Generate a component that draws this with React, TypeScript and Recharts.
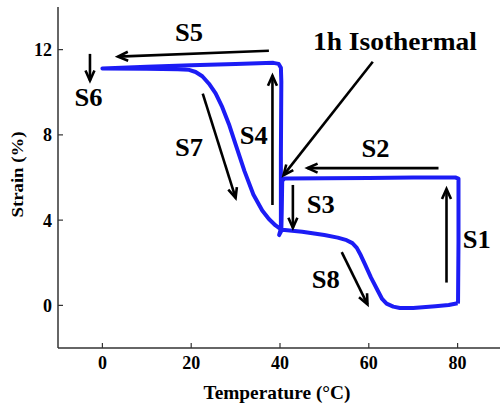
import * as React from "react"
import { LineChart, Line, XAxis, YAxis, ReferenceLine, ReferenceDot } from "recharts"

// strain loop, traced in order: S1 -> S2 -> S3 -> S4 -> S5 -> S7 -> S8
const tempC = [
  80, 80.1, 80.2, 80.2,
  79.5, 70, 60, 50, 41, 40.5,
  40.4, 40.3, 39.8,
  40.2, 40.2, 40.3, 40.2, 39.7, 38.5,
  30, 20, 10, 0,
  10, 17, 19.5, 21, 22.5, 24, 25.5, 27, 28.5, 30, 32, 34, 36, 37.5, 39, 40, 40.5,
  45, 50, 53, 55, 56.3, 57.3, 58.2, 59.2, 60.5, 62, 63, 64, 65.5, 67, 70, 75, 78, 80,
]
const strain = [
  0.1, 0.15, 3.0, 5.95,
  6.0, 6.0, 5.98, 5.97, 5.95, 5.85,
  4.5, 3.5, 3.3,
  3.6, 7.0, 10.5, 11.15, 11.33, 11.38,
  11.33, 11.27, 11.2, 11.12,
  11.1, 11.08, 11.05, 10.95, 10.75, 10.4, 9.95, 9.3, 8.5, 7.55, 6.3, 5.2, 4.45, 4.05, 3.75, 3.6, 3.55,
  3.45, 3.3, 3.18, 3.06, 2.92, 2.7, 2.35, 1.9, 1.3, 0.7, 0.3, 0.08, -0.06, -0.12, -0.12, -0.04, 0.02, 0.1,
]

const xTicks = [0, 20, 40, 60, 80]
const yTicks = [0, 4, 8, 12]

// annotation arrows in data units: tail -> head
const arrows = [
  { x1: 37.5, y1: 11.95, x2: 3.5, y2: 11.67 }, // S5
  { x1: -2.8, y1: 11.8, x2: -2.8, y2: 10.55 }, // S6
  { x1: 22.6, y1: 9.94, x2: 30.0, y2: 5.04 }, // S7
  { x1: 38.3, y1: 4.71, x2: 38.3, y2: 10.78 }, // S4
  { x1: 60.9, y1: 11.43, x2: 40.8, y2: 6.11 }, // 1h isothermal
  { x1: 75.7, y1: 6.44, x2: 46.2, y2: 6.44 }, // S2
  { x1: 42.9, y1: 5.65, x2: 42.9, y2: 3.64 }, // S3
  { x1: 77.5, y1: 1.07, x2: 77.5, y2: 5.46 }, // S1
  { x1: 53.9, y1: 2.5, x2: 59.7, y2: 0.05 }, // S8
]

const labelText = ["S5", "S6", "S7", "S4", "S2", "S3", "S1", "S8", "1h Isothermal"]
const labelX = [19.5, -3.1, 19.5, 34.1, 61.5, 49.2, 84.3, 50.3, 65.9]
const labelY = [12.8, 9.75, 7.4, 7.98, 7.37, 4.71, 3.08, 1.2, 12.4]

const serif = "'Liberation Serif', 'Times New Roman', serif"
const axisColor = "#333"

const loop = tempC.map((x, i) => ({ x, y: strain[i] }))

function ArrowShape(props: any) {
  const { x1, y1, x2, y2 } = props
  if (x1 == null || y1 == null) return null
  const ang = Math.atan2(y2 - y1, x2 - x1)
  const len = 11
  const spread = 0.42
  const ax = x2 - len * Math.cos(ang - spread)
  const ay = y2 - len * Math.sin(ang - spread)
  const bx = x2 - len * Math.cos(ang + spread)
  const by = y2 - len * Math.sin(ang + spread)
  return (
    <g>
      <line x1={x1} y1={y1} x2={x2} y2={y2} stroke="#000" strokeWidth={2.6} />
      <polyline points={`${ax},${ay} ${x2},${y2} ${bx},${by}`} fill="none" stroke="#000" strokeWidth={2.6} />
    </g>
  )
}

function labelShape(text: string) {
  const long = text.length > 3
  return (props: any) => (
    <text
      x={props.cx}
      y={props.cy}
      textAnchor="middle"
      dominantBaseline="central"
      fontFamily={serif}
      fontWeight="bold"
      fontSize={long ? 26 : 25}
      textLength={long ? 164 : 28}
      lengthAdjust="spacingAndGlyphs"
      fill="#000"
    >
      {text}
    </text>
  )
}

const tickStyle = { fontFamily: serif, fontWeight: "bold", fontSize: 18, fill: "#000" }

export default function App() {
  return (
    <div style={{ position: "absolute", left: 0, top: 0, width: 500, height: 407, overflow: "hidden", background: "#fff" }}>
      <LineChart width={510} height={407} margin={{ top: 7, right: 8, left: 0, bottom: 0 }}>
        <XAxis
          dataKey="x"
          type="number"
          domain={[-10, 90]}
          ticks={xTicks}
          allowDataOverflow
          height={59}
          tickSize={-5}
          tickMargin={13}
          tick={tickStyle}
          axisLine={{ stroke: axisColor, strokeWidth: 1.5 }}
          tickLine={{ stroke: axisColor, strokeWidth: 1.2 }}
          label={{
            content: ({ viewBox }: any) => (
              <text
                x={viewBox.x + viewBox.width / 2 - 3}
                y={viewBox.y + 51}
                textAnchor="middle"
                fontFamily={serif}
                fontWeight="bold"
                fontSize={19}
                textLength={147}
                lengthAdjust="spacingAndGlyphs"
                fill="#000"
              >
                Temperature (°C)
              </text>
            ),
          }}
        />
        <XAxis
          xAxisId="top"
          orientation="top"
          type="number"
          domain={[-10, 90]}
          ticks={xTicks}
          height={0}
          tickSize={-5}
          tick={false}
          axisLine={{ stroke: axisColor, strokeWidth: 1.5 }}
          tickLine={{ stroke: axisColor, strokeWidth: 1.2 }}
        />
        <YAxis
          type="number"
          domain={[-2, 14]}
          ticks={yTicks}
          allowDataOverflow
          width={58}
          tickSize={-5}
          tickMargin={11}
          tick={tickStyle}
          axisLine={{ stroke: axisColor, strokeWidth: 1.5 }}
          tickLine={{ stroke: axisColor, strokeWidth: 1.2 }}
          label={{
            content: ({ viewBox }: any) => {
              const cx = viewBox.x + 17
              const cy = viewBox.y + viewBox.height / 2 - 3
              return (
                <text
                  x={cx}
                  y={cy}
                  transform={`rotate(-90 ${cx} ${cy})`}
                  textAnchor="middle"
                  dominantBaseline="central"
                  fontFamily={serif}
                  fontWeight="bold"
                  fontSize={16}
                  textLength={86}
                  lengthAdjust="spacingAndGlyphs"
                  fill="#000"
                >
                  Strain (%)
                </text>
              )
            },
          }}
        />
        <YAxis
          yAxisId="right"
          orientation="right"
          type="number"
          domain={[-2, 14]}
          ticks={yTicks}
          width={0}
          tickSize={-5}
          tick={false}
          axisLine={{ stroke: axisColor, strokeWidth: 1.5 }}
          tickLine={{ stroke: axisColor, strokeWidth: 1.2 }}
        />

        <Line
          data={loop}
          dataKey="y"
          type="linear"
          stroke="#1c1cf5"
          strokeWidth={4}
          strokeLinejoin="round"
          dot={false}
          activeDot={false}
          isAnimationActive={false}
        />

        {arrows.map((a, i) => (
          <ReferenceLine
            key={"a" + i}
            segment={[{ x: a.x1, y: a.y1 }, { x: a.x2, y: a.y2 }]}
            shape={ArrowShape}
          />
        ))}

        {labelText.map((t, i) => (
          <ReferenceDot key={"l" + i} x={labelX[i]} y={labelY[i]} r={0} shape={labelShape(t)} />
        ))}
      </LineChart>
    </div>
  )
}
